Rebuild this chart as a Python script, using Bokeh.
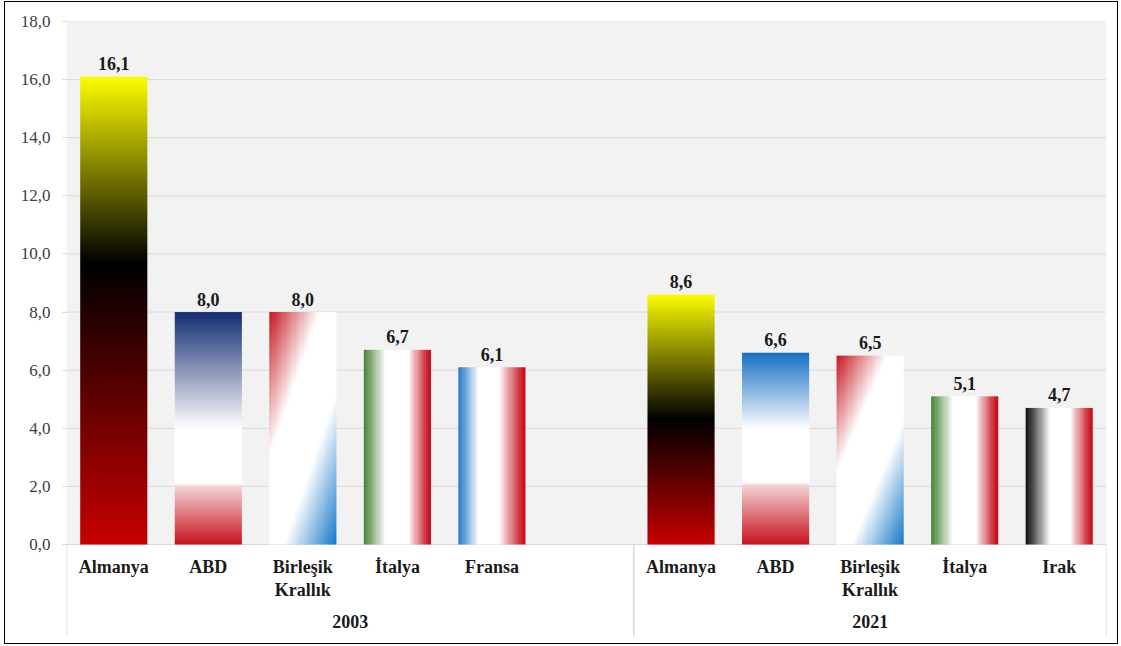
import numpy as np
from bokeh.plotting import figure
from bokeh.models import Range1d, FixedTicker
from bokeh.core.properties import value
from bokeh.embed import file_html
from bokeh.resources import INLINE

# ---------------- data ----------------
years = ["2003", "2021"]
countries_2003 = ["Almanya", "ABD", "Birleşik\nKrallık", "İtalya", "Fransa"]
values_2003 = [16.1, 8.0, 8.0, 6.7, 6.1]
countries_2021 = ["Almanya", "ABD", "Birleşik\nKrallık", "İtalya", "Irak"]
values_2021 = [8.6, 6.6, 6.5, 5.1, 4.7]
slots_per_group = [6, 5]          # 2003 group has one empty category slot
y_ticks = [0, 2, 4, 6, 8, 10, 12, 14, 16, 18]

# ---------------- styles ----------------
FONT = "Liberation Serif"
RED = (200, 20, 30)
WHITE = (255, 255, 255)
GRID = "#d9d9d9"

def vertical(stops):
    return ("v", stops)

def horizontal(stops):
    return ("h", stops)

def diagonal(stops, k):
    return ("d", stops, k)

GER = lambda b: vertical([(0, (200, 0, 0)), (b, (0, 0, 0)), (1, (255, 255, 0))])
bar_styles = {
    ("2003", "Almanya"): GER(0.6),
    ("2021", "Almanya"): GER(0.5),
    ("2003", "ABD"): vertical([(0, RED), (0.25, (245, 212, 216)), (0.26, WHITE), (0.5, WHITE),
                               (1, (20, 45, 115))]),
    ("2021", "ABD"): vertical([(0, RED), (0.31, (245, 212, 216)), (0.32, WHITE), (0.6, WHITE),
                               (1, (20, 110, 195))]),
    "Birleşik\nKrallık": diagonal([(0, RED), (0.75, WHITE), (1.42, WHITE), (2.2, (20, 120, 200))], 1.2),
    "İtalya": horizontal([(0, (70, 130, 50)), (0.32, WHITE), (0.66, WHITE), (0.96, RED), (1, RED)]),
    "Fransa": horizontal([(0, (30, 120, 200)), (0.3, WHITE), (0.6, WHITE), (0.96, RED), (1, RED)]),
    "Irak": horizontal([(0, (10, 10, 10)), (0.37, WHITE), (0.66, WHITE), (0.96, RED), (1, RED)]),
}

def gradient_image(style, nx=60, ny=300):
    u = (np.arange(nx) + 0.5) / nx
    r = (np.arange(ny) + 0.5) / ny           # row 0 is bottom
    U, R = np.meshgrid(u, r)
    kind = style[0]
    stops = style[1]
    if kind == "v":
        t = R
    elif kind == "h":
        t = U
    else:
        t = U + style[2] * (1 - R)
    pos = np.array([s[0] for s in stops], float)
    cols = np.array([s[1] for s in stops], float)
    img = np.empty((ny, nx), dtype=np.uint32)
    view = img.view(dtype=np.uint8).reshape((ny, nx, 4))
    for c in range(3):
        view[:, :, c] = np.clip(np.interp(t, pos, cols[:, c]), 0, 255).astype(np.uint8)
    view[:, :, 3] = 255
    return img

# ---------------- layout ----------------
OX, OY = 6, 3                      # figure origin on the page (margin)
W, H = 1110, 639
FRAME_L, FRAME_R = 66 - OX, 1106 - OX
FRAME_T, ZERO_PX, FRAME_B = 21 - OY, 544 - OY, 636 - OY
ymax = y_ticks[-1]
ppu = (ZERO_PX - FRAME_T) / ymax
ymin = -(FRAME_B - ZERO_PX) / ppu
total = sum(slots_per_group)
BW = 0.71

p = figure(width=W, height=H, x_range=Range1d(0, total), y_range=Range1d(ymin, ymax),
           output_backend="svg", toolbar_location=None, x_axis_type=None,
           min_border_left=FRAME_L, min_border_right=W - FRAME_R, min_border_top=FRAME_T,
           min_border_bottom=H - FRAME_B)
p.margin = (OY, 0, 0, OX)
p.outline_line_color = None
p.ygrid.visible = False
p.background_fill_color = "white"
p.border_fill_color = "white"
p.styles = {"outline": "1px solid #000", "outline-offset": "1px"}

ax = p.yaxis[0]
ax.ticker = FixedTicker(ticks=y_ticks)
ax.major_label_overrides = {t: f"{t:.1f}".replace(".", ",") for t in y_ticks}
ax.axis_line_color = None
ax.major_tick_out = 4
ax.major_tick_in = 0
ax.major_tick_line_color = GRID
ax.minor_tick_line_color = None
ax.major_label_text_font = FONT
ax.major_label_text_font_size = "17px"
ax.major_label_text_color = "#404040"
ax.major_label_standoff = 12

# plot-area background and gridlines
p.quad(left=0, right=total, bottom=0, top=ymax, fill_color="#f2f2f2", line_color=None)
p.segment(x0=[0] * len(y_ticks), x1=[total] * len(y_ticks), y0=y_ticks, y1=y_ticks,
          line_color=GRID, line_width=1)

# group separators
bounds = [0]
for s in slots_per_group:
    bounds.append(bounds[-1] + s)
p.segment(x0=bounds, x1=bounds, y0=[0] * len(bounds), y1=[ymin] * len(bounds),
          line_color=GRID, line_width=1.5)

groups = [(years[0], countries_2003, values_2003), (years[1], countries_2021, values_2021)]
imgs, xs, dws, dhs = [], [], [], []
lab_x, lab_y, lab_t = [], [], []
cat_x, cat_t = [], []
grp_x, grp_t = [], []
for gi, (yr, cats, vals) in enumerate(groups):
    start = bounds[gi]
    for i, (c, v) in enumerate(zip(cats, vals)):
        style = bar_styles.get((yr, c), bar_styles.get(c))
        imgs.append(gradient_image(style))
        xs.append(start + i + (1 - BW) / 2)
        dws.append(BW)
        dhs.append(v)
        lab_x.append(start + i + 0.5)
        lab_y.append(v)
        lab_t.append(f"{v:.1f}".replace(".", ","))
        cat_x.append(start + i + 0.5)
        cat_t.append(c)
    grp_x.append(start + slots_per_group[gi] / 2)
    grp_t.append(yr)

p.image_rgba(image=imgs, x=xs, y=[0] * len(xs), dw=dws, dh=dhs)

p.text(x=lab_x, y=lab_y, text=lab_t, text_font=value(FONT), text_font_style="bold",
       text_font_size="18px", text_color="#1a1a1a", text_align="center",
       text_baseline="alphabetic", y_offset=-13)
p.text(x=cat_x, y=[0] * len(cat_x), text=cat_t, text_font=value(FONT), text_font_style="bold",
       text_font_size="18px", text_color="#1a1a1a", text_align="center",
       text_baseline="top", y_offset=12, text_line_height=1.17)
p.text(x=grp_x, y=[0] * len(grp_x), text=grp_t, text_font=value(FONT), text_font_style="bold",
       text_font_size="18px", text_color="#1a1a1a", text_align="center",
       text_baseline="alphabetic", y_offset=77)

open("out.html", "w").write(file_html(p, INLINE))
